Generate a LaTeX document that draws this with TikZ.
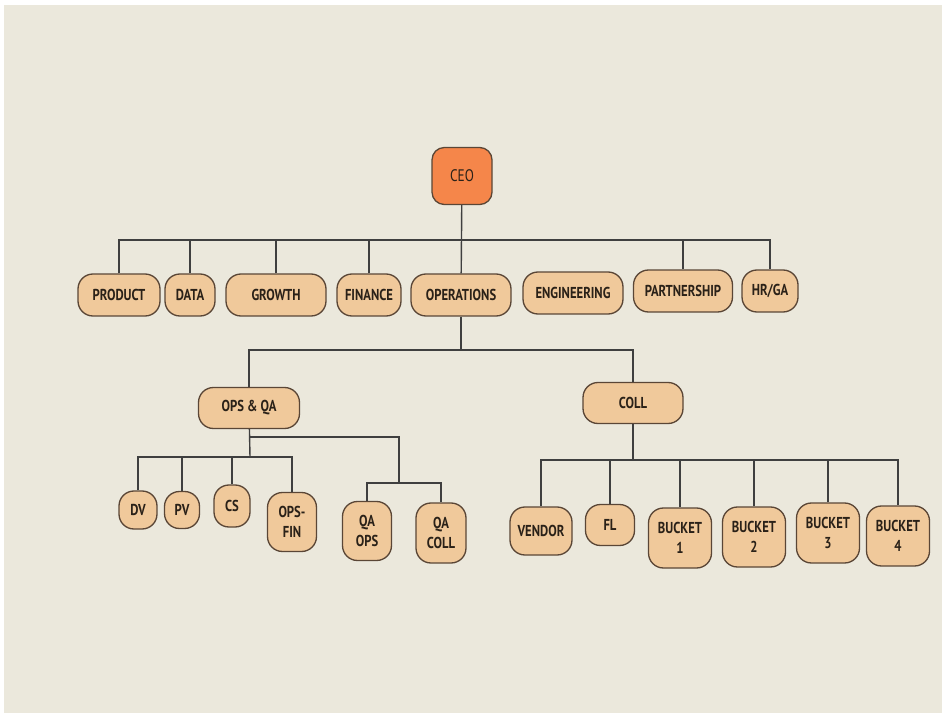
\documentclass[tikz,border=0pt]{standalone}
\usepackage{fontspec}
\setmainfont{PT Sans}[FakeStretch=0.8]
\usepackage{xcolor}
\usepackage{tikz}
\usetikzlibrary{positioning,calc}

\definecolor{bgbeige}{HTML}{EBE8DC}
\definecolor{unitfill}{HTML}{F0C99B}
\definecolor{ceofill}{HTML}{F5864A}
\definecolor{unitedge}{HTML}{5A4636}
\definecolor{linkgray}{HTML}{3F3F3F}
\definecolor{labeltext}{HTML}{2A2118}

\begin{document}
\begin{tikzpicture}[x=0.02cm, y=-0.02cm,
    unit/.style={draw=unitedge, line width=0.75pt, fill=unitfill, rounded corners=8.5pt,
        text=labeltext, font=\fontsize{9}{11.5}\selectfont\bfseries, align=center,
        inner sep=1pt, minimum height=0.84cm},
    ceobox/.style={unit, fill=ceofill, rounded corners=7pt, font=\fontsize{9.5}{11.5}\selectfont},
    link/.style={draw=linkgray, line width=0.8pt}]
    % page and background
    \useasboundingbox (0,0) rectangle (942,713);
    \fill[white] (0,0) rectangle (942,713);
    \fill[bgbeige] (4,5) rectangle (942,713);

    % top
    \node[ceobox, minimum width=1.2cm, minimum height=1.14cm] (ceo) at (462,176) {CEO};

    % first level
    \node[unit, minimum width=1.64cm] (product) at (119,295) {PRODUCT};
    \node[unit, minimum width=1.0cm] (data) at (190,295) {DATA};
    \node[unit, minimum width=2.0cm] (growth) at (276,295) {GROWTH};
    \node[unit, minimum width=1.28cm] (finance) at (369,295) {FINANCE};
    \node[unit, minimum width=2.0cm] (operations) at (461,295) {OPERATIONS};
    \node[unit, minimum width=2.0cm] (engineering) at (573,293) {ENGINEERING};
    \node[unit, minimum width=1.98cm] (partnership) at (683,291) {PARTNERSHIP};
    \node[unit, minimum width=1.12cm] (hrga) at (770,291) {HR/GA};

    % operations
    \node[unit, minimum width=2.02cm, minimum height=0.82cm] (opsqa) at (249,408) {OPS \& QA};
    \node[unit, minimum width=2.0cm, minimum height=0.82cm] (coll) at (633,403) {COLL};

    % ops & qa teams
    \node[unit, minimum width=0.76cm, minimum height=0.76cm] (dv) at (138,510) {DV};
    \node[unit, minimum width=0.7cm, minimum height=0.74cm] (pv) at (182,510) {PV};
    \node[unit, minimum width=0.72cm, minimum height=0.84cm] (cs) at (232,506) {CS};
    \node[unit, minimum width=0.98cm, minimum height=1.18cm] (opsfin) at (292,522) {OPS-\\FIN};
    \node[unit, minimum width=0.98cm, minimum height=1.18cm] (qaops) at (367,531) {QA\\OPS};
    \node[unit, minimum width=1.0cm, minimum height=1.2cm] (qacoll) at (441,533) {QA\\COLL};

    % coll teams
    \node[unit, minimum width=1.24cm, minimum height=0.96cm] (vendor) at (541,531) {VENDOR};
    \node[unit, minimum width=0.98cm, minimum height=0.82cm] (fl) at (610,525) {FL};
    \node[unit, minimum width=1.26cm, minimum height=1.2cm] (bucketa) at (680,538) {BUCKET\\1};
    \node[unit, minimum width=1.26cm, minimum height=1.2cm] (bucketb) at (754,537) {BUCKET\\2};
    \node[unit, minimum width=1.26cm, minimum height=1.2cm] (bucketc) at (828,533) {BUCKET\\3};
    \node[unit, minimum width=1.26cm, minimum height=1.2cm] (bucketd) at (898,536) {BUCKET\\4};

    % bus lines
    \coordinate (topbus) at (462,240);
    \coordinate (opsbus) at (461,350);
    \coordinate (qabus) at (250,457);
    \coordinate (qajog) at (250,437);
    \coordinate (qcbus) at (399,483);
    \coordinate (collbus) at (633,460);

    % connectors
    \draw[link] (ceo) -- (operations);
    \draw[link] (product.north) |- (hrga.north |- topbus) -- (hrga.north);
    \foreach \n in {data,growth,finance,partnership}
        \draw[link] (\n.north) -- (\n.north |- topbus);

    \draw[link] (operations) -- (opsbus);
    \draw[link] (opsqa.north) |- (coll.north |- opsbus) -- (coll.north);

    \draw[link] (opsqa) -- (qabus);
    \draw[link] (dv.north) |- (opsfin.north |- qabus) -- (opsfin.north);
    \foreach \n in {pv,cs}
        \draw[link] (\n.north) -- (\n.north |- qabus);
    \draw[link] (qajog) -| (qcbus);
    \draw[link] (qaops.north) |- (qacoll.north |- qcbus) -- (qacoll.north);

    \draw[link] (coll) -- (collbus);
    \draw[link] (vendor.north) |- (bucketd.north |- collbus) -- (bucketd.north);
    \foreach \n in {fl,bucketa,bucketb,bucketc}
        \draw[link] (\n.north) -- (\n.north |- collbus);
\end{tikzpicture}
\end{document}
